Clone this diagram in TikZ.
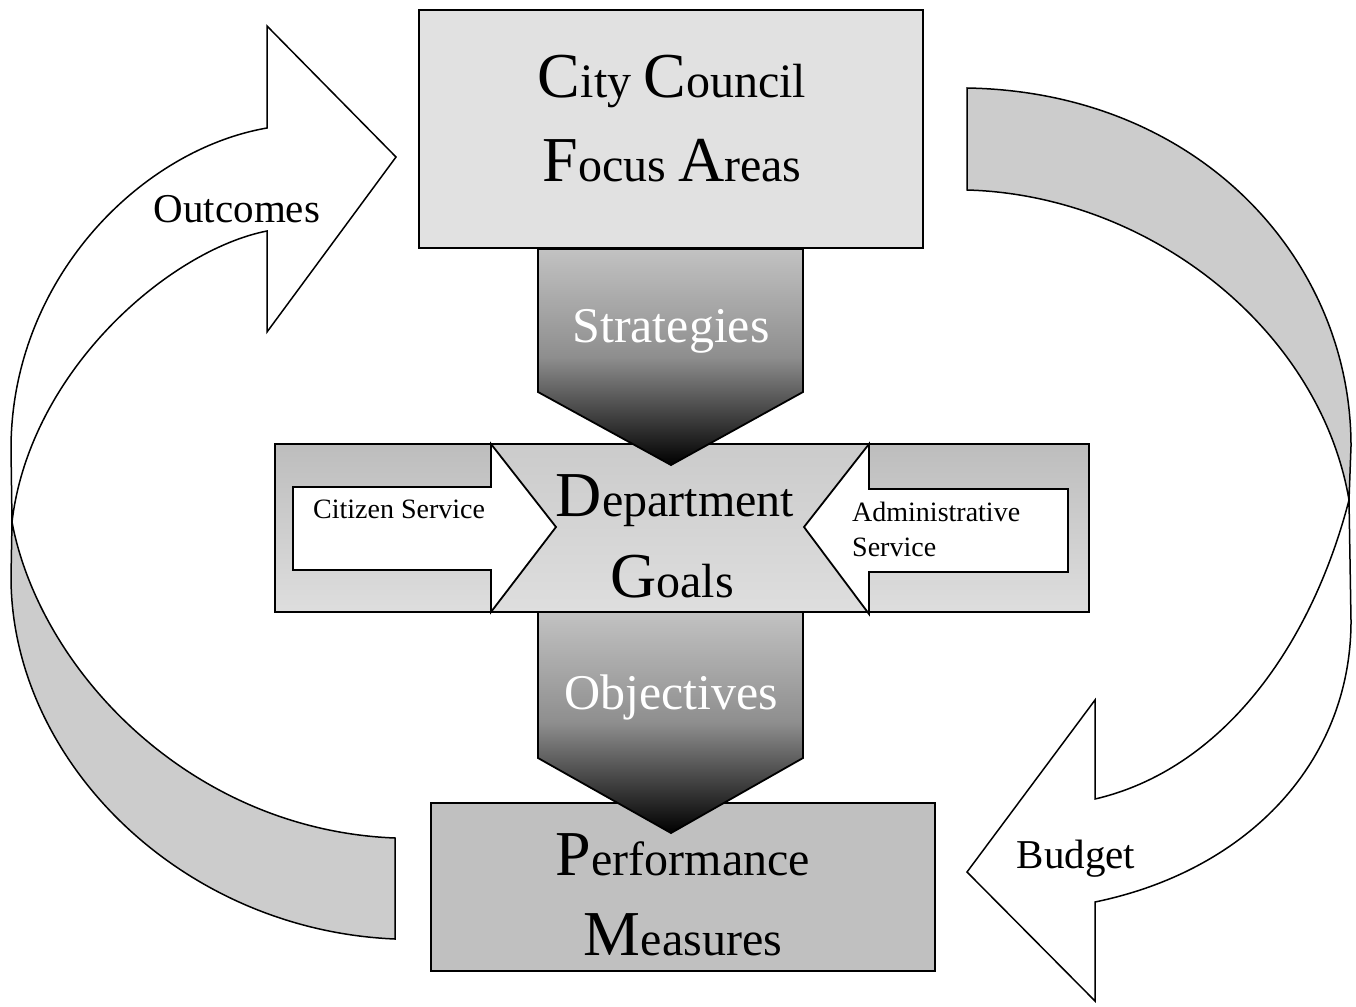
\documentclass[tikz,border=0pt]{standalone}
\usepackage{fontspec}
\setmainfont{Liberation Serif}
\usetikzlibrary{calc}
\definecolor{areafill}{HTML}{E1E1E1}
\definecolor{goaltop}{HTML}{BDBDBD}
\definecolor{goalbot}{HTML}{DEDEDE}
\definecolor{hubtop}{HTML}{CBCBCB}
\definecolor{hubbot}{HTML}{DEDEDE}
\definecolor{perffill}{HTML}{C0C0C0}
\definecolor{ribgray}{HTML}{CCCCCC}
\definecolor{flowtop}{HTML}{C2C2C2}
\definecolor{flowmid}{HTML}{8E8E8E}
\newcommand\bigini[1]{{\fontsize{64}{64}\selectfont #1}}
\newcommand\flowdown[3]{
  \shadedraw[edge,top color=flowtop,bottom color=black,middle color=flowmid]
    (538,#1) -- (803,#1) -- (803,#2) -- (671,#3) -- (538,#2) -- cycle;
}

\begin{document}
\begin{tikzpicture}[x=1pt,y=-1pt,line join=miter,
    edge/.style={draw=black,line width=1.8pt},
    rib/.style={draw=black,line width=1.5pt},
    bigword/.style={font=\fontsize{48}{48}\selectfont,anchor=base,inner sep=0pt},
    lab/.style={font=\fontsize{41}{41}\selectfont,anchor=base,inner sep=0pt},
    small/.style={font=\fontsize{28}{28}\selectfont,anchor=base west,inner sep=0pt},
    flowtext/.style={font=\fontsize{50}{50}\selectfont,text=white,anchor=base,inner sep=0pt}]
  \useasboundingbox (0,0) rectangle (1356,1006);

  % outcomes ribbon
  \filldraw[rib,fill=ribgray] (12,522) -- (11,577) .. controls (11,760) and (180,930) .. (395,939)
    -- (395,838) .. controls (190,830) and (40,670) .. (12,522) -- cycle;
  \filldraw[rib,fill=white] (267,128) .. controls (140,150) and (11,280) .. (11,449) -- (12,522)
    .. controls (30,370) and (170,250) .. (267,231) -- (267,332) -- (396,157) -- (267,26) -- cycle;

  % budget ribbon
  \filldraw[rib,fill=ribgray] (967,88) .. controls (1200,92) and (1351,260) .. (1351,446) -- (1349,500)
    .. controls (1320,330) and (1150,195) .. (967,190) -- cycle;
  \filldraw[rib,fill=white] (1349,500) .. controls (1310,650) and (1220,770) .. (1095,799)
    -- (1095,700) -- (967,872) -- (1095,1001) -- (1095,902)
    .. controls (1250,870) and (1351,760) .. (1351,621) -- cycle;

  % boxes
  \filldraw[edge,fill=areafill] (419,10) rectangle (923,248);
  \shade[top color=goaltop,bottom color=goalbot] (275,444) rectangle (1089,612);
  \shade[top color=hubtop,bottom color=hubbot]
    (491,444) -- (869,444) -- (804,527) -- (869,612) -- (491,612) -- (556,527) -- cycle;
  \draw[edge] (275,444) rectangle (1089,612);
  \filldraw[edge,fill=white] (293,487) -- (491,487) -- (491,444) -- (556,527) -- (491,612)
    -- (491,570) -- (293,570) -- cycle;
  \filldraw[edge,fill=white] (1068,489) -- (869,489) -- (869,444) -- (804,527) -- (869,614)
    -- (869,572) -- (1068,572) -- cycle;
  \filldraw[edge,fill=perffill] (431,803) rectangle (935,971);

  \flowdown{249}{392}{465}
  \flowdown{612}{758}{833}

  \node[bigword] (city) at (672,98) {\bigini{C}ity \bigini{C}ouncil};
  \node[bigword] (focus) at (672,181) {\bigini{F}ocus \bigini{A}reas};
  \node[flowtext] (strat) at (671,342) {Strategies};
  \node[bigword] (dept) at (675,516) {\bigini{D}epartment};
  \node[bigword] (goals) at (672,597) {\bigini{G}oals};
  \node[flowtext] (obj) at (671,709) {Objectives};
  \node[bigword] (perf) at (683,875) {\bigini{P}erformance};
  \node[bigword] (meas) at (683,955) {\bigini{M}easures};
  \node[lab] (outc) at (237,222) {Outcomes};
  \node[lab] (budg) at (1076,868) {Budget};
  \node[small] (citz) at (313,518) {Citizen Service};
  \node[small] (admin) at (852,521) {Administrative};
  \node[small] (admsv) at (852,556) {Service};
\end{tikzpicture}
\end{document}
